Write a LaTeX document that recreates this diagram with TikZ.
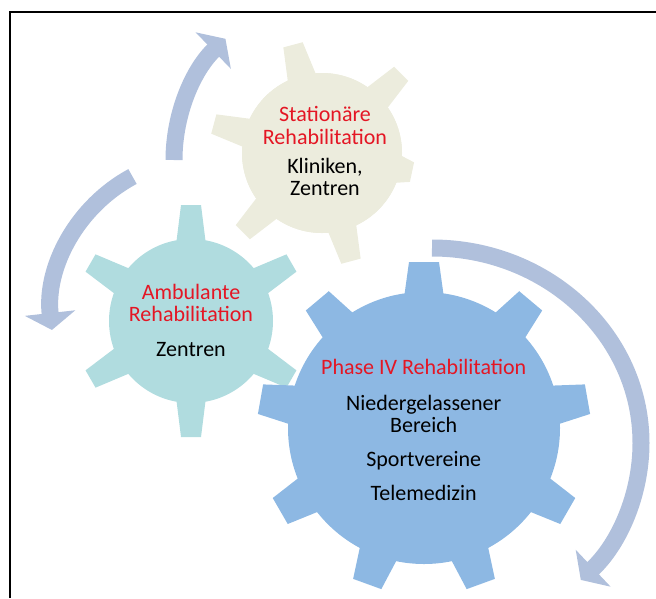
\documentclass[tikz,border=0pt]{standalone}
\usepackage{fontspec}
\setmainfont{Carlito}
\usetikzlibrary{arrows.meta}

\definecolor{gearBeige}{RGB}{236,236,221}
\definecolor{gearTeal}{RGB}{176,220,223}
\definecolor{gearBlue}{RGB}{141,184,227}
\definecolor{cycleBlue}{RGB}{176,192,220}
\definecolor{rehaRed}{RGB}{228,22,36}

\tikzset{
  cyclearrow/.style={draw=cycleBlue, line width=17pt,
    -{Triangle[width=50pt, length=17pt]}},
  geartext/.style={align=center, anchor=base,
    font=\fontsize{22}{22.7}\selectfont},
}

% center, body radius, tip radius, half width at body, half width at tip, angles, colour
\newcommand{\gearshape}[7]{%
  \fill[#7] (#1) circle (#2);
  \foreach \a in {#6}
    \fill[#7, shift={(#1)}, rotate=-\a]
      (#2-6,-#4) -- (#3,-#5) -- (#3,#5) -- (#2-6,#4) -- cycle;
}
\newcommand{\ttl}[1]{\textcolor{rehaRed}{#1}}

\begin{document}
\begin{tikzpicture}[x=1pt, y=-1pt]
  \useasboundingbox (0,0) rectangle (656,598);
  \draw[line width=1.2pt] (10,598) -- (10,12) -- (656,12);

  % gears
  \gearshape{322,153}{80}{112}{15}{10}{75,135,...,315}{gearBeige}
  \gearshape{322,153}{80}{92}{15}{10}{12}{gearBeige}
  \gearshape{191,321}{82}{116}{15}{10}{30,90,...,330}{gearTeal}
  \gearshape{424,428}{136}{166}{20}{15}{-10,30,...,310}{gearBlue}

  % cycle arrows
  \draw[cyclearrow] (174,160) arc[start angle=180, end angle=226, radius=168.5];
  \draw[cyclearrow] (132.5,176.5) arc[start angle=241.7, end angle=173.7, radius=155];
  \draw[cyclearrow] (432,248) arc[start angle=-90, end angle=44.6,
    x radius=209, y radius=195];

  % texts (base = last line)
  \node[geartext] (statText) at (325,195.7)
    {\ttl{Stationäre}\\\ttl{Rehabilitation}\\[6.3pt]Kliniken,\\Zentren};
  \node[geartext] (ambuText) at (191,356.7)
    {\ttl{Ambulante}\\\ttl{Rehabilitation}\\[12.3pt]Zentren};
  \node[geartext] (phaseText) at (423.7,500.7)
    {\ttl{Phase IV Rehabilitation}\\[13pt]Niedergelassener\\Bereich\\[11.3pt]Sportvereine\\[11.3pt]Telemedizin};
\end{tikzpicture}
\end{document}
